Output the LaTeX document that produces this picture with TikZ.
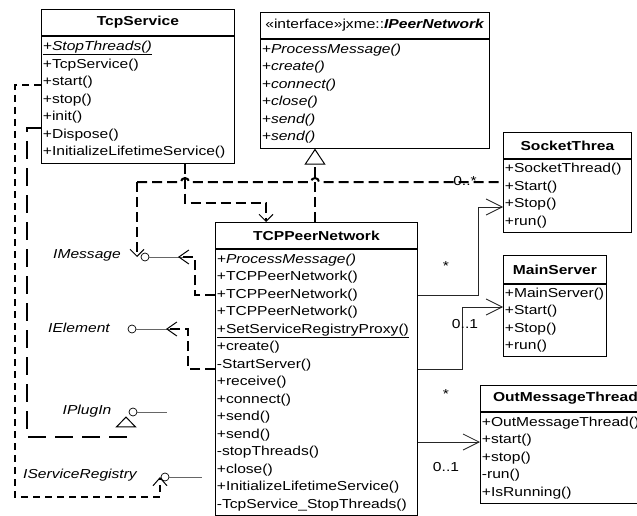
\documentclass[tikz,border=0pt]{standalone}
\usepackage{fontspec}
\newfontfamily\umlfont[FakeStretch=1.2]{Liberation Sans}
\usetikzlibrary{arrows.meta}
\tikzset{
	every node/.style={font=\umlfont\fontsize{13}{17.5}\selectfont, inner sep=0pt},
	head/.style={draw, line width=0.8pt, anchor=north west, minimum height=26pt, font=\umlfont\fontsize{13}{17.5}\selectfont\bfseries},
	body/.style={draw, line width=0.8pt, anchor=north west, align=left, inner xsep=1.5pt, inner ysep=0pt},
	lolly/.style={circle, draw, line width=0.7pt, minimum size=8pt},
	stem/.style={line width=0.7pt, color=black!60},
	assoc/.style={line width=0.8pt, color=black!85, -{Straight Barb[length=16pt, width=16pt]}},
	dep/.style={line width=2pt, dash pattern=on 10pt off 5pt},
	deptip/.style={-{Straight Barb[length=7pt, width=14pt, line width=1pt]}},
	dashlong/.style={line width=2pt, dash pattern=on 18pt off 9pt},
	dashshort/.style={line width=2pt, dash pattern=on 7pt off 5pt}
}

\begin{document}
\begin{tikzpicture}[x=1pt, y=-1pt]
		\useasboundingbox (0,0) rectangle (637,516);
		
		%%%%% CLASSES %%%%%
		
		\node[head, minimum width=193pt] (tshead) at (41,9) {TcpService};
		\node[body, text width=190pt, minimum height=127pt] (tsbody) at (tshead.south west) {\underline{\textit{+StopThreads()}}\\+TcpService()\\+start()\\+stop()\\+init()\\+Dispose()\\+InitializeLifetimeService()};
		
		\node[head, minimum width=229pt] (iphead) at (260,12) {\mdseries «interface»jxme::\textbf{\textit{IPeerNetwork}}};
		\node[body, text width=226pt, minimum height=109pt, font=\umlfont\fontsize{13}{17.5}\selectfont\itshape] (ipbody) at (iphead.south west) {+ProcessMessage()\\+create()\\+connect()\\+close()\\+send()\\+send()};
		
		\node[head, minimum width=128pt] (sthead) at (503,132) {SocketThrea};
		\node[body, text width=125pt, minimum height=73pt] (stbody) at (sthead.south west) {+SocketThread()\\+Start()\\+Stop()\\+run()};
		
		\node[head, minimum width=202pt] (tphead) at (215,222) {TCPPeerNetwork};
		\node[body, text width=199pt, minimum height=266.5pt] (tpbody) at (tphead.south west) {\textit{+ProcessMessage()}\\+TCPPeerNetwork()\\+TCPPeerNetwork()\\+TCPPeerNetwork()\\\underline{+SetServiceRegistryProxy()}\\+create()\\-StartServer()\\+receive()\\+connect()\\+send()\\+send()\\-stopThreads()\\+close()\\+InitializeLifetimeService()\\-TcpService\_StopThreads()};
		
		\node[head, minimum width=103pt, minimum height=28pt] (mshead) at (503,255) {MainServer};
		\node[body, text width=100pt, minimum height=72pt] (msbody) at (mshead.south west) {+MainServer()\\+Start()\\+Stop()\\+run()};
		
		\node[head, minimum width=170pt] (omhead) at (480,385) {OutMessageThread};
		\node[body, text width=167pt, minimum height=91pt] (ombody) at (omhead.south west) {+OutMessageThread()\\+start()\\+stop()\\-run()\\+IsRunning()};
		
		%%%%% INTERFACES %%%%%
		
		\node (imsg) at (87,255) {\itshape IMessage};
		\node[lolly] (imsgc) at (145,257) {};
		\coordinate (imsgEnd) at (190,257);
		\coordinate (imsgTip) at (178,257);
		\draw[stem] (imsgc) -- (imsgEnd);
		
		\node (iel) at (79,328) {\itshape IElement};
		\node[lolly] (ielc) at (132,329) {};
		\coordinate (ielEnd) at (175,329);
		\coordinate (ielTip) at (166,329);
		\draw[stem] (ielc) -- (ielEnd);
		
		\node (ipl) at (87,411) {\itshape IPlugIn};
		\node[lolly] (iplc) at (133,412) {};
		\coordinate (iplEnd) at (167,412);
		\draw[stem] (iplc) -- (iplEnd);
		
		\node (isr) at (80,475) {\itshape IServiceRegistry};
		\node[lolly] (isrc) at (165,477) {};
		\coordinate (isrEnd) at (202,477);
		\draw[stem] (isrc) -- (isrEnd);
		
		%%%%% ASSOCIATIONS %%%%%
		
		\coordinate (s1) at (478,295);
		\coordinate (s2) at (478,207);
		\draw[assoc] (tpbody.east |- s1) -- (s1) -- (s2) -- (stbody.west |- s2);
		\node (lblS) at (446,266) {*};
		
		\coordinate (m1) at (462,369);
		\coordinate (m2) at (462,307);
		\draw[assoc] (tpbody.east |- m1) -- (m1) -- (m2) -- (msbody.west |- m2);
		\node (lblM) at (465,324) {0..1};
		
		\coordinate (o1) at (443,442);
		\draw[assoc] (tpbody.east |- o1) -- (ombody.west |- o1);
		\node (lblO) at (446,394) {*};
		\node (lblOb) at (446,467) {0..1};
		
		%%%%% DEPENDENCIES %%%%%
		
		\coordinate (hopL) at (137,182);
		\coordinate (x1) at (185,182);
		\coordinate (x2) at (315,182);
		\draw[dep] (hopL) -- ([xshift=-4pt]x1) arc[start angle=180, end angle=0, radius=4pt] -- ([xshift=-4pt]x2) arc[start angle=180, end angle=0, radius=4pt] -- (stbody.west |- hopL);
		\node (lblT) at (465,181) {0..*};
		\draw[dep, deptip] (hopL) -- (hopL |- imsgc);
		
		\coordinate (t1) at (185,203);
		\coordinate (t2) at (266,203);
		\draw[dep, deptip] (tsbody.south -| t1) -- (t1) -- (t2) -- (t2 |- tphead.north);
		
		\draw[dep, -{Triangle[open, length=16pt, width=21pt, line width=1pt]}] (tphead.north -| x2) -- (x2 |- ipbody.south);
		
		\coordinate (e1) at (195,295);
		\draw[dep, -{Straight Barb[length=10pt, width=14pt, line width=1pt]}] (tpbody.west |- e1) -- (e1) -- (e1 |- imsgc) -- (imsgTip);
		
		\coordinate (f1) at (188,369);
		\draw[dep, -{Straight Barb[length=10pt, width=14pt, line width=1pt]}] (tpbody.west |- f1) -- (f1) -- (f1 |- ielc) -- (ielTip);
		
		\coordinate (g1) at (27,128);
		\coordinate (g2) at (27,437);
		\coordinate (g3) at (126,437);
		\draw[dashlong, -{Triangle[open, length=11pt, width=21pt, line width=1pt]}] (tsbody.west |- g1) -- (g1) -- (g2) -- (g3) -- (g3 |- iplc.south);
		
		\coordinate (h1) at (15,85);
		\coordinate (h2) at (15,497);
		\coordinate (h3) at (160,497);
		\draw[dashshort, -{Straight Barb[length=8pt, width=14pt, line width=1pt]}] (tsbody.west |- h1) -- (h1) -- (h2) -- (h3) -- (h3 |- isrc);
		
		%%%%% END %%%%%
	\end{tikzpicture}
\end{document}
